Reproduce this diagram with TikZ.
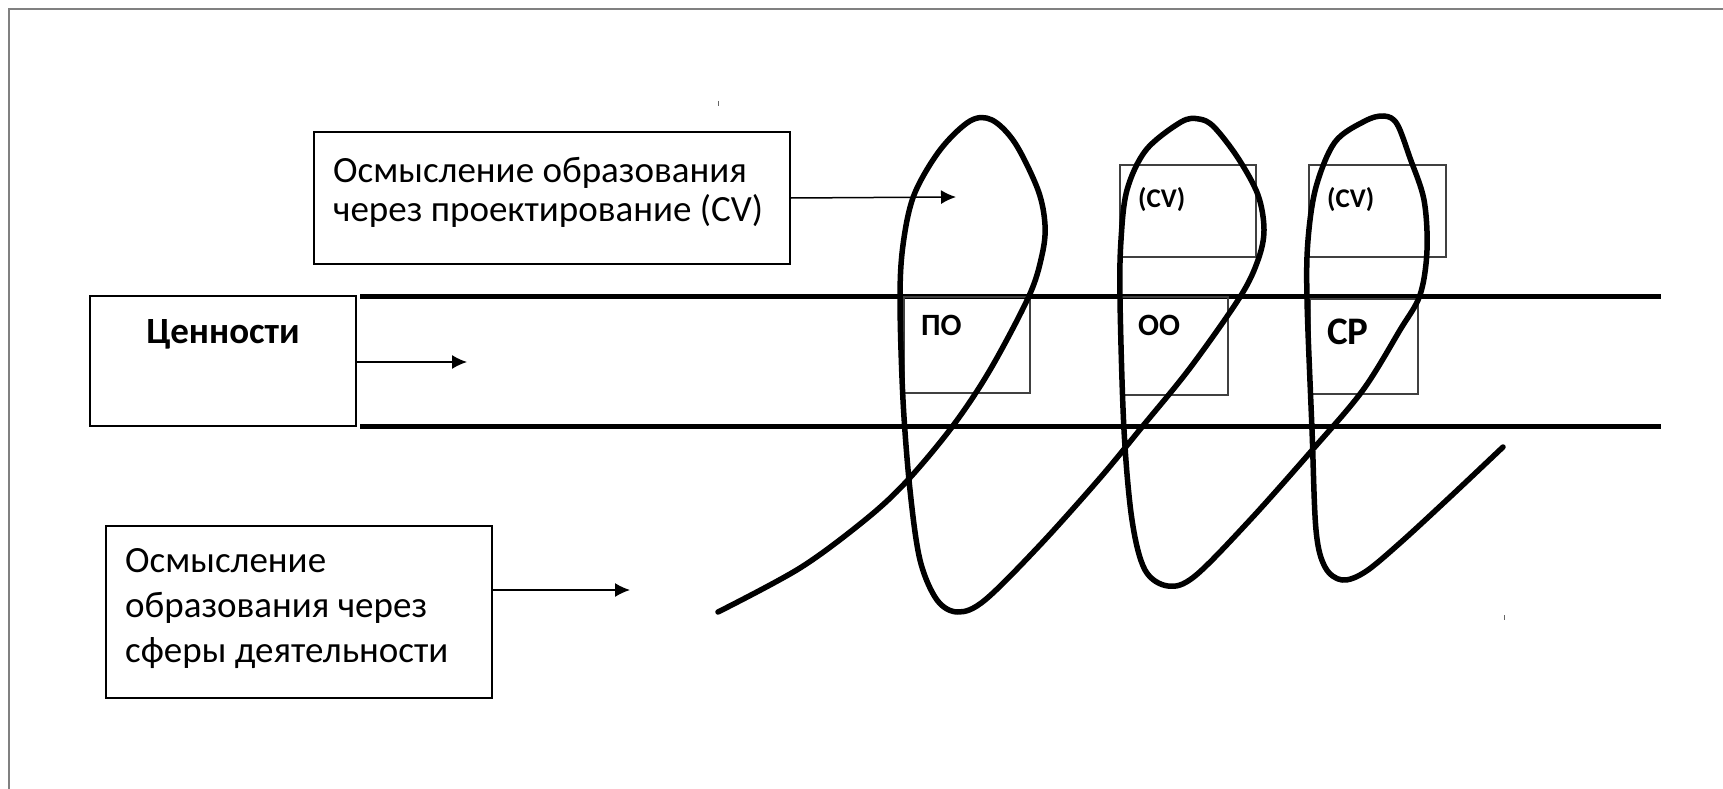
\documentclass[tikz,border=0pt]{standalone}
\usepackage{fontspec}
\setmainfont{Carlito}
\usetikzlibrary{arrows.meta}

\tikzset{
  framebox/.style={draw, line width=2pt, anchor=north west},
  boxtext/.style={anchor=west, align=flush left, inner sep=0pt},
  smallbox/.style={draw=black!75, line width=1.5pt, anchor=north west},
  lbl/.style={anchor=base west, inner sep=0pt, font=\bfseries\fontsize{31}{33}\selectfont},
  arr/.style={line width=1.5pt, -{Latex[length=15pt,width=14pt]}},
  band/.style={line width=5pt},
  helix/.style={line width=5.5pt, line join=round, line cap=round},
}

\begin{document}
\begin{tikzpicture}[x=1pt,y=-1pt]
  \useasboundingbox (0,0) rectangle (1723,789);
  \draw[black!50, line width=1.5pt] (9,789) -- (9,9) -- (1723,9);

  \node[framebox, minimum width=476pt, minimum height=132pt] (proj) at (313,131) {};
  \node[boxtext, font=\fontsize{37}{39}\selectfont] (projtext)
    at ([xshift=20pt,yshift=6pt]proj.west)
    {Осмысление образования\\через проектирование (CV)};
  \node[framebox, minimum width=266pt, minimum height=130pt] (val) at (89,295) {};
  \node[anchor=base, inner sep=0pt, font=\bfseries\fontsize{37}{40}\selectfont] (valtext)
    at ([yshift=-48pt]val.north) {Ценности};
  \node[framebox, minimum width=386pt, minimum height=172pt] (sph) at (105,525) {};
  \node[boxtext, font=\fontsize{37}{45}\selectfont] (sphtext)
    at ([xshift=20pt,yshift=3pt]sph.west)
    {Осмысление\\образования через\\сферы деятельности};

  \draw[band] (360,296) -- (1661,296);
  \draw[band] (360,426) -- (1661,426);

  \node[smallbox, minimum width=126pt, minimum height=96pt] (po) at (903,296) {};
  \node[smallbox, minimum width=107pt, minimum height=98pt] (oo) at (1120,296) {};
  \node[smallbox, minimum width=108pt, minimum height=95pt] (sr) at (1309,298) {};
  \node[smallbox, minimum width=136pt, minimum height=92pt] (cva) at (1119,164) {};
  \node[smallbox, minimum width=137pt, minimum height=92pt] (cvb) at (1308,164) {};

  \node[lbl] (potext) at ([xshift=18pt,yshift=-39pt]po.north west) {ПО};
  \node[lbl] (ootext) at ([xshift=18pt,yshift=-39pt]oo.north west) {ОО};
  \node[lbl, font=\bfseries\fontsize{39}{41}\selectfont] (srtext)
    at ([xshift=18pt,yshift=-46pt]sr.north west) {СР};
  \node[lbl, font=\bfseries\fontsize{27}{30}\selectfont] (cvatext)
    at ([xshift=19pt,yshift=-43pt]cva.north west) {(CV)};
  \node[lbl, font=\bfseries\fontsize{27}{30}\selectfont] (cvbtext)
    at ([xshift=19pt,yshift=-43pt]cvb.north west) {(CV)};

  \coordinate (valtip) at (467,362);
  \coordinate (projtip) at (956,197);
  \coordinate (sphtip) at (630,590);
  \draw[arr] (val.east|-valtip) -- (valtip);
  \draw[arr] (proj.east) -- (projtip);
  \draw[arr] (sph.east|-sphtip) -- (sphtip);

  \draw[helix] plot[smooth, tension=0.55] coordinates {
    (718,612) (800,568) (865,520) (906,482) (952,427) (990,370) (1029,296)
    (1042,255) (1045,225) (1038,190) (1015,143) (992,120) (970,121) (940,150)
    (914,195) (903,245) (900,300) (903,400) (910,490) (920,560) (937,600)
    (958,612) (985,600) (1040,545) (1100,478) (1142,427) (1190,368) (1240,297)
    (1258,260) (1264,230) (1258,195) (1238,158) (1214,127) (1199,119) (1181,122)
    (1146,150) (1127,190) (1121,240) (1120,300) (1124,430) (1132,520) (1145,570)
    (1168,586) (1195,576) (1250,520) (1314,448) (1363,390) (1400,330) (1420,295)
    (1427,250) (1424,200) (1410,158) (1397,124) (1384,116) (1365,121) (1335,142)
    (1316,187) (1308,240) (1307,300) (1312,430) (1316,530) (1325,567) (1342,580)
    (1365,572) (1400,543) (1450,497) (1503,447)};

  \draw[black!60, line width=1pt] (718,101) -- (718,106);
  \draw[black!60, line width=1pt] (1504,615) -- (1504,620);
\end{tikzpicture}
\end{document}
